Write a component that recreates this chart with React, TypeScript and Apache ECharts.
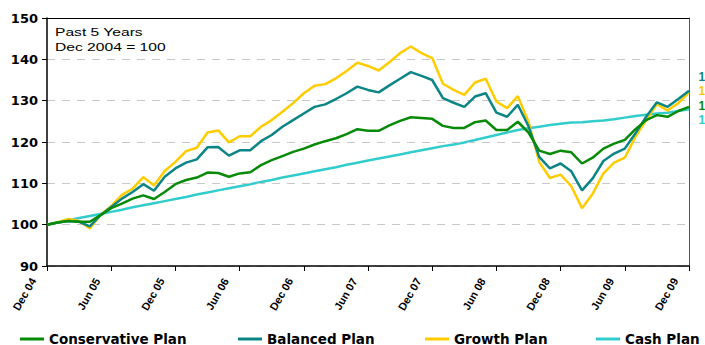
import React, { useEffect, useRef } from "react";
import * as echarts from "echarts";

const MONTH_NAMES = ["Jan", "Feb", "Mar", "Apr", "May", "Jun", "Jul", "Aug", "Sep", "Oct", "Nov", "Dec"];
const START_MONTH_INDEX = 11; // Dec
const START_YEAR = 4; // 2004
const MONTH_COUNT = 61;

const categories: string[] = Array.from({ length: MONTH_COUNT }, (_, i) => {
  const k = START_MONTH_INDEX + i;
  const yr = START_YEAR + Math.floor(k / 12);
  return `${MONTH_NAMES[k % 12]} ${String(yr).padStart(2, "0")}`;
});

const SERIES_NAMES = ["Conservative Plan", "Balanced Plan", "Growth Plan", "Cash Plan"];

const conservative = [
  100, 100.5, 100.9, 100.7, 100.7, 102.3, 104.0, 105.1, 106.3, 107.1, 106.2, 107.9,
  109.8, 110.8, 111.4, 112.6, 112.5, 111.6, 112.4, 112.7, 114.4, 115.6, 116.6, 117.6,
  118.4, 119.4, 120.2, 120.9, 121.9, 123.1, 122.7, 122.7, 124.0, 125.1, 126.0, 125.8,
  125.6, 123.9, 123.4, 123.4, 124.8, 125.2, 122.9, 122.9, 124.9, 122.3, 117.9, 117.1,
  117.9, 117.5, 114.8, 116.2, 118.4, 119.6, 120.5, 123.1, 125.3, 126.5, 126.1, 127.5,
  128.5,
];

const balanced = [
  100, 100.5, 100.9, 100.7, 99.6, 102.3, 104.3, 106.3, 107.9, 109.8, 108.2, 111.6,
  113.6, 115.0, 115.8, 118.7, 118.8, 116.7, 118.0, 118.0, 120.2, 121.7, 123.7, 125.3,
  126.9, 128.5, 129.1, 130.4, 131.8, 133.4, 132.6, 132.0, 133.7, 135.3, 136.9, 136.0,
  135.0, 130.6, 129.5, 128.5, 131.0, 131.8, 127.1, 126.1, 129.0, 123.8, 116.4, 113.6,
  114.8, 112.9, 108.3, 111.2, 115.4, 117.2, 118.4, 122.1, 126.1, 129.6, 128.5, 130.4,
  132.4,
];

const growth = [
  100, 100.6, 101.4, 100.9, 99.1, 102.3, 104.5, 107.2, 108.7, 111.5, 109.5, 113.0,
  115.2, 117.8, 118.6, 122.3, 122.8, 119.9, 121.4, 121.4, 123.7, 125.3, 127.3, 129.4,
  131.8, 133.6, 134.0, 135.4, 137.2, 139.2, 138.4, 137.3, 139.3, 141.5, 143.1, 141.5,
  140.3, 134.1, 132.6, 131.4, 134.4, 135.3, 129.8, 128.2, 131.1, 124.9, 115.2, 111.3,
  112.1, 109.3, 104.0, 107.5, 112.4, 115.0, 116.2, 121.3, 125.3, 129.2, 127.6, 129.4,
  132.0,
];

const cash = [
  100.0, 100.5, 101.0, 101.6, 102.1, 102.6, 103.1, 103.6, 104.2, 104.7, 105.2, 105.7,
  106.2, 106.7, 107.3, 107.8, 108.3, 108.8, 109.3, 109.8, 110.3, 110.8, 111.4, 111.9,
  112.4, 112.9, 113.4, 113.9, 114.5, 115.0, 115.5, 116.0, 116.5, 117.0, 117.5, 118.0,
  118.5, 119.0, 119.4, 119.9, 120.5, 121.1, 121.7, 122.3, 122.9, 123.3, 123.7, 124.1,
  124.4, 124.7, 124.8, 125.0, 125.2, 125.5, 125.9, 126.3, 126.6, 126.9, 127.1, 127.5,
  127.9,
];

const COLORS = ["#078a07", "#0b8585", "#ffcc00", "#33cccc"];
const END_LABELS = ["132", "132", "128", "128"]; // balanced, growth, conservative, cash (stack order)
const END_LABEL_COLORS = [COLORS[1], COLORS[2], COLORS[0], COLORS[3]];

const NOTE_LINES = ["Past 5 Years", "Dec 2004 = 100"];
const LEGEND_LEFTS = [20, 238, 425, 596];

export default function App() {
  const ref = useRef<HTMLDivElement>(null);

  useEffect(() => {
    if (!ref.current) return;
    const chart = echarts.init(ref.current, undefined, { renderer: "svg" });
    const seriesData = [conservative, balanced, growth, cash];

    chart.setOption({
      animation: false,
      backgroundColor: "#ffffff",
      grid: { left: 47, right: 16, top: 18, bottom: 79, containLabel: false },
      legend: SERIES_NAMES.map((name, i) => ({
        left: LEGEND_LEFTS[i],
        top: 332,
        padding: 0,
        itemGap: 0,
        itemWidth: 24,
        itemHeight: 14,
        icon: "path://M0,5.5 L24,5.5 L24,8.5 L0,8.5 Z",
        textStyle: {
          fontFamily: "'DejaVu Sans', sans-serif",
          fontWeight: "bold",
          fontSize: 13.5,
          color: "#000",
        },
        data: [name],
      })),
      xAxis: [
        {
          type: "category",
          data: categories,
          boundaryGap: false,
          axisLine: { lineStyle: { color: "#000", width: 1.5 } },
          axisTick: { interval: 5, length: 5, lineStyle: { color: "#000", width: 1 } },
          axisLabel: {
            interval: 5,
            rotate: 60,
            margin: 0,
            color: "#000",
            fontFamily: "'Liberation Sans', Arial, sans-serif",
            fontWeight: "bold",
            fontSize: 11,
            verticalAlign: "bottom",
            padding: [0, 18, 0, 0],
          },
          splitLine: { show: false },
          z: 3,
        },
        {
          type: "category",
          data: categories,
          position: "top",
          boundaryGap: false,
          axisLine: { lineStyle: { color: "#000", width: 1 } },
          axisTick: { show: false },
          axisLabel: { show: false },
          splitLine: { show: false },
          z: 3,
        },
      ],
      yAxis: [
        {
          type: "value",
          min: 90,
          max: 150,
          interval: 10,
          axisLine: { show: true, lineStyle: { color: "#000", width: 1.5 } },
          axisTick: { show: true, length: 5, lineStyle: { color: "#000" } },
          axisLabel: {
            margin: 9,
            color: "#000",
            fontFamily: "'DejaVu Sans', sans-serif",
            fontWeight: "bold",
            fontSize: 13,
          },
          splitLine: { lineStyle: { color: "#c8c8c8", type: [8, 7], width: 1 } },
          z: 3,
        },
        {
          type: "value",
          min: 90,
          max: 150,
          interval: 10,
          position: "right",
          axisLine: { show: true, lineStyle: { color: "#555", width: 1 } },
          axisTick: { show: false },
          axisLabel: { show: false },
          splitLine: { show: false },
          z: 3,
        },
      ],
      series: SERIES_NAMES.map((name, i) => ({
        name,
        type: "line",
        data: seriesData[i],
        symbol: "none",
        showSymbol: false,
        lineStyle: { color: COLORS[i], width: 2.5 },
        itemStyle: { color: COLORS[i] },
        z: i === 3 ? 2 : 3 + (3 - i),
      })),
      graphic: [
        ...NOTE_LINES.map((t, i) => ({
          type: "text",
          x: 55,
          y: 27 + i * 14.5,
          scaleX: 1.42,
          style: {
            text: t,
            fill: "#000",
            font: "11px 'Liberation Sans', Arial, sans-serif",
            textVerticalAlign: "top",
          },
        })),
        ...END_LABELS.map((t, i) => ({
          type: "text",
          x: 698.5,
          y: 77 + i * 14.3,
          style: {
            text: t,
            fill: END_LABEL_COLORS[i],
            font: "bold 12px 'Liberation Sans', Arial, sans-serif",
            textVerticalAlign: "middle",
          },
        })),
      ],
    });

    return () => chart.dispose();
  }, []);

  return (
    <div
      ref={ref}
      style={{ position: "absolute", left: 0, top: 0, width: 705, height: 345 }}
    />
  );
}
